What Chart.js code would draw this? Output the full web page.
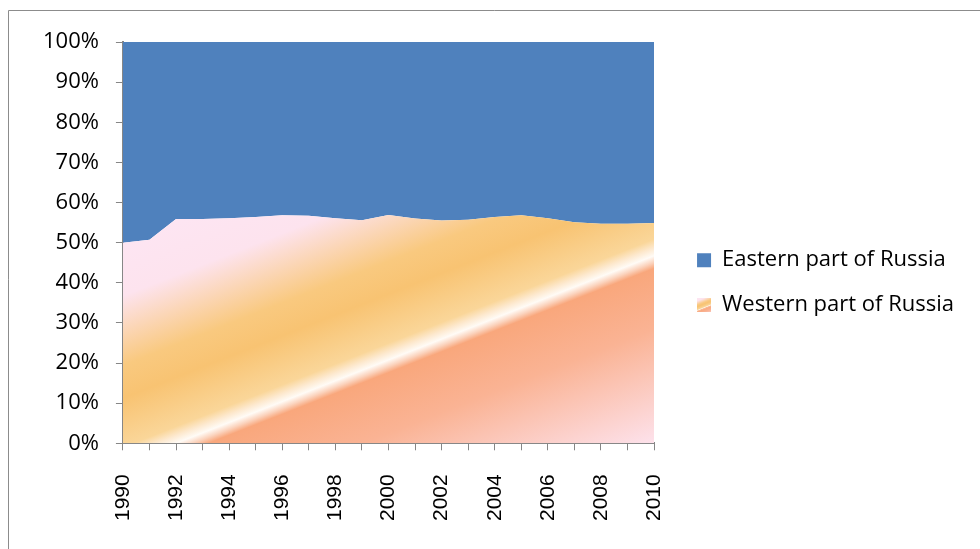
<!DOCTYPE html>
<html>
<head>
<meta charset="utf-8">
<script src="https://cdn.jsdelivr.net/npm/chart.js@4"></script>
<style>
  html, body { margin: 0; padding: 0; background: #fff; }
  #wrap { width: 980px; height: 549px; position: relative; }
</style>
</head>
<body>
<div id="wrap"><canvas id="regions"></canvas></div>
<script>
// 100% stacked area: share of Russia by part, 1990-2010
const years = ['1990', '1991', '1992', '1993', '1994', '1995', '1996', '1997', '1998', '1999', '2000',
  '2001', '2002', '2003', '2004', '2005', '2006', '2007', '2008', '2009', '2010'];
const western = [50.0, 50.7, 55.9, 55.9, 56.1, 56.4, 56.8, 56.7, 56.1, 55.6, 56.9,
  56.0, 55.5, 55.7, 56.4, 56.8, 56.1, 55.1, 54.7, 54.7, 54.9];
const eastern = [50.0, 49.3, 44.1, 44.1, 43.9, 43.6, 43.2, 43.3, 43.9, 44.4, 43.1,
  44.0, 44.5, 44.3, 43.6, 43.2, 43.9, 44.9, 45.3, 45.3, 45.1];
const yTicks = [0, 10, 20, 30, 40, 50, 60, 70, 80, 90, 100];

const BLUE = '#4f81bd';
const AXIS = '#868686';
const FONT = 'Open Sans';

// excel-like diagonal "fire" gradient
const stops = [
  [0, '#fde5f2'], [0.13, '#fde3ee'], [0.3, '#f9c97f'], [0.38, '#f8c372'],
  [0.5, '#fad699'], [0.522, '#fde9cf'], [0.541, '#fffbf6'], [0.557, '#fbd3bd'],
  [0.572, '#f9a77c'], [0.72, '#fab394'], [1, '#fde2ec']
];

function westernFill(context) {
  const chart = context.chart;
  const a = chart.chartArea;
  if (!a) return '#f9c77a';
  const w = a.right - a.left, h = a.bottom - a.top;
  const g = chart.ctx.createLinearGradient(a.left, a.top + 0.5 * h, a.left + 0.262 * w, a.top + 1.384 * h);
  stops.forEach(s => g.addColorStop(s[0], s[1]));
  return g;
}

// small legend swatch for the gradient series
const swatch = document.createElement('canvas');
swatch.width = 14; swatch.height = 14;
(function () {
  const c = swatch.getContext('2d');
  const g = c.createLinearGradient(0, 0, 8, 20);
  stops.forEach(s => g.addColorStop(s[0], s[1]));
  c.fillStyle = g;
  c.fillRect(0, 0, 14, 14);
})();

const frame = {
  id: 'frame',
  beforeDraw(chart) {
    const c = chart.ctx;
    c.save();
    c.strokeStyle = '#8c8c8c';
    c.lineWidth = 1;
    c.beginPath();
    c.moveTo(8.5, 549);
    c.lineTo(8.5, 10.5);
    c.lineTo(980, 10.5);
    c.stroke();
    c.restore();
  }
};

const ctx = document.querySelector('#regions').getContext('2d');

const chart = new Chart(ctx, {
  type: 'line',
  data: {
    labels: years,
    datasets: [{
      label: 'Western part of Russia',
      data: western,
      fill: 'origin',
      backgroundColor: westernFill,
      borderColor: 'transparent',
      borderWidth: 0,
      pointRadius: 0
    }, {
      label: 'Eastern part of Russia',
      data: eastern,
      fill: '-1',
      backgroundColor: BLUE,
      borderColor: 'transparent',
      borderWidth: 0,
      pointRadius: 0
    }]
  },
  options: {
    responsive: true,
    maintainAspectRatio: false,
    animation: false,
    layout: { padding: { left: 26, top: 42, right: 16, bottom: 4 } },
    plugins: {
      tooltip: { enabled: false },
      legend: {
        position: 'right',
        fullSize: false,
        reverse: true,
        maxWidth: 300,
        title: { display: true, text: ' ', color: '#000', font: { size: 20 }, padding: 28 },
        labels: {
          usePointStyle: true,
          boxWidth: 14,
          boxHeight: 14,
          padding: 23,
          color: '#000',
          font: { family: FONT, size: 22 },
          generateLabels(ch) {
            return ch.data.datasets.map((ds, i) => ({
              text: ds.label,
              datasetIndex: i,
              fontColor: '#000',
              fillStyle: i === 0 ? '#f9c77a' : BLUE,
              strokeStyle: 'transparent',
              lineWidth: 0,
              pointStyle: i === 0 ? swatch : 'rect',
              hidden: false
            }));
          }
        }
      }
    },
    scales: {
      x: {
        offset: false,
        z: 1,
        grid: { drawOnChartArea: false, color: AXIS, tickLength: 7 },
        border: { color: AXIS, width: 2 },
        ticks: {
          autoSkip: false,
          maxRotation: 90,
          minRotation: 90,
          padding: 24,
          color: '#000',
          font: { family: 'Liberation Sans', size: 21 },
          callback(v, i) { return i % 2 === 0 ? years[i] : ''; }
        }
      },
      y: {
        stacked: true,
        min: 0,
        max: 100,
        z: 1,
        afterBuildTicks(s) { s.ticks = yTicks.map(v => ({ value: v })); },
        grid: { drawOnChartArea: false, color: AXIS, tickLength: 7 },
        border: { color: AXIS, width: 2 },
        ticks: {
          padding: 17,
          color: '#000',
          font: { family: FONT, size: 22 },
          callback(v) { return v + '%'; }
        }
      },
      gap: {
        position: 'right',
        display: true,
        grid: { display: false },
        border: { display: false },
        ticks: { display: false },
        afterFit(s) { s.width = 20; }
      }
    }
  },
  plugins: [frame]
});
</script>
</body>
</html>
